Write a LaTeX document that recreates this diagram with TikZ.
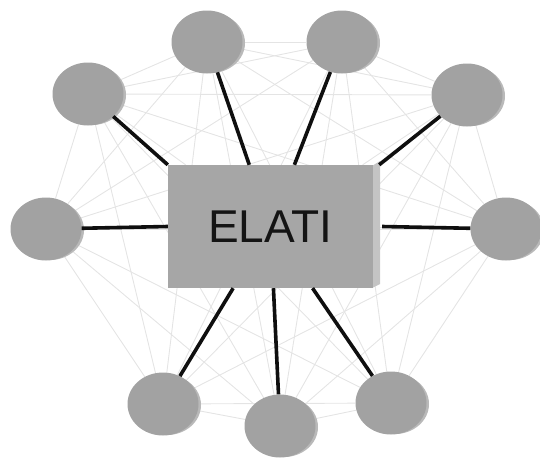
\documentclass[tikz,border=0pt]{standalone}
\usepackage{fontspec}
\setmainfont{Liberation Sans}
\usetikzlibrary{shapes.geometric,backgrounds,calc}
\definecolor{bubblegray}{RGB}{162,162,162}
\definecolor{bubbleedge}{RGB}{185,185,185}
\definecolor{boxgray}{RGB}{166,166,166}
\definecolor{boxside}{RGB}{196,196,196}
\definecolor{faintgray}{RGB}{228,228,228}
\definecolor{linkgray}{RGB}{15,15,15}
\tikzset{
  bubble/.style={ellipse, fill=bubblegray, draw=none, minimum width=71pt, minimum height=63pt, inner sep=0pt},
  hubbox/.style={rectangle, fill=boxgray, draw=none, minimum width=205pt, minimum height=123pt, inner sep=0pt, font=\fontsize{46}{50}\selectfont, text=black!92},
  faint/.style={draw=faintgray, line width=0.9pt},
  link/.style={draw=linkgray, line width=3.6pt},
}
\begin{document}
\begin{tikzpicture}[x=1pt,y=-1pt]
\useasboundingbox (0,0) rectangle (540,461);
\foreach \n/\x/\y in {1/207/42,2/88/94,3/46/229,4/342/42,5/467/95,6/506/229,7/163/404,8/280/426,9/391/403}
  \coordinate (p\n) at (\x,\y);
% hub box with light side face
\fill[boxside] (372,166) -- (380,161) -- (380,284) -- (372,288) -- cycle;
\node[hubbox] (hub) at (270.5,226.5) {ELATI};
% bubbles with slight offset edge
\foreach \n in {1,...,9} {
  \fill[bubbleedge] ($(p\n)+(4,1)$) ellipse [x radius=34pt, y radius=30pt];
  \node[bubble] (e\n) at (p\n) {};
}
% faint complete graph behind everything
\begin{scope}[on background layer]
  \foreach \i in {1,...,9} {
    \foreach \j in {1,...,9} {
      \ifnum\i<\j \draw[faint] (e\i) -- (e\j); \fi
    }
    \draw[faint] (e\i) -- (hub);
  }
\end{scope}
% black links from hub to bubbles
\draw[link] (hub) -- (e1);
\draw[link] (hub.north west) -- (e2);
\draw[link] (hub.west) -- (e3);
\draw[link] (hub) -- (e4);
\draw[link] ($(hub.north east)+(6,0)$) -- (e5);
\draw[link] ($(hub.east)+(9,0)$) -- (e6);
\draw[link] (hub) -- (e7);
\draw[link] (hub) -- (e8);
\draw[link] (hub) -- (e9);
\end{tikzpicture}
\end{document}
